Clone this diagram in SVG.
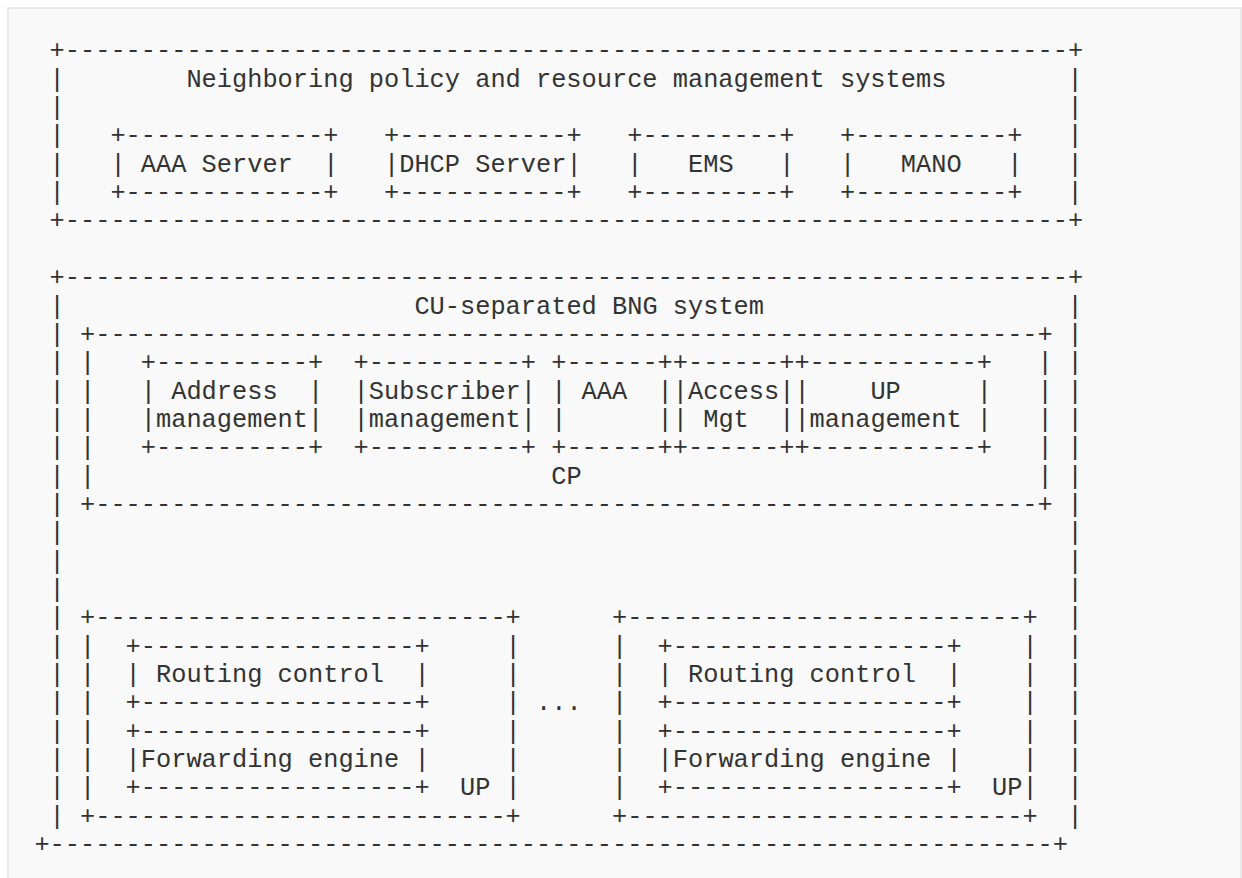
<svg xmlns="http://www.w3.org/2000/svg" width="1242" height="878" viewBox="0 0 1242 878">
<style>
.t { font-family: "Liberation Mono", "DejaVu Sans Mono", monospace; font-size: 25.33px; fill: #333333; white-space: pre; }
</style>
<rect x="0" y="0" width="1242" height="878" fill="#ffffff"/>
<rect x="8" y="8" width="1233" height="890" fill="#f9f9f9" stroke="#e8e8e8" stroke-width="2"/>
<g id="neighboring-systems">
<text class="t" x="49.6" y="58.3">+------------------------------------------------------------------+</text>
<text class="t" x="186.4" y="86.7">Neighboring policy and resource management systems</text>
<text class="t"><tspan x="49.6" y="86.7">|</tspan><tspan x="49.6" y="115">|</tspan><tspan x="49.6" y="143.4">|</tspan><tspan x="49.6" y="171.7">|</tspan><tspan x="49.6" y="200.1">|</tspan><tspan x="1067.6" y="86.7">|</tspan><tspan x="1067.6" y="115">|</tspan><tspan x="1067.6" y="143.4">|</tspan><tspan x="1067.6" y="171.7">|</tspan><tspan x="1067.6" y="200.1">|</tspan></text>
<text class="t" x="49.6" y="228.4">+------------------------------------------------------------------+</text>
</g>
<g id="aaa-server">
<text class="t" x="110.4" y="143.4">+-------------+</text>
<text class="t" x="110.4" y="171.7">| AAA Server  |</text>
<text class="t" x="110.4" y="200.1">+-------------+</text>
</g>
<g id="dhcp-server">
<text class="t" x="384" y="143.4">+-----------+</text>
<text class="t" x="384" y="171.7">|DHCP Server|</text>
<text class="t" x="384" y="200.1">+-----------+</text>
</g>
<g id="ems">
<text class="t" x="627.2" y="143.4">+---------+</text>
<text class="t" x="627.2" y="171.7">|   EMS   |</text>
<text class="t" x="627.2" y="200.1">+---------+</text>
</g>
<g id="mano">
<text class="t" x="840" y="143.4">+----------+</text>
<text class="t" x="840" y="171.7">|   MANO   |</text>
<text class="t" x="840" y="200.1">+----------+</text>
</g>
<g id="cu-separated-bng">
<text class="t" x="49.6" y="285.1">+------------------------------------------------------------------+</text>
<text class="t" x="414.4" y="313.5">CU-separated BNG system</text>
<text class="t"><tspan x="49.6" y="313.5">|</tspan><tspan x="49.6" y="341.8">|</tspan><tspan x="49.6" y="370.2">|</tspan><tspan x="49.6" y="398.5">|</tspan><tspan x="49.6" y="426.9">|</tspan><tspan x="49.6" y="455.2">|</tspan><tspan x="49.6" y="483.6">|</tspan><tspan x="49.6" y="511.9">|</tspan><tspan x="49.6" y="540.3">|</tspan><tspan x="49.6" y="568.6">|</tspan><tspan x="49.6" y="597">|</tspan><tspan x="49.6" y="625.3">|</tspan><tspan x="49.6" y="653.7">|</tspan><tspan x="49.6" y="682">|</tspan><tspan x="49.6" y="710.4">|</tspan><tspan x="49.6" y="738.7">|</tspan><tspan x="49.6" y="767.1">|</tspan><tspan x="49.6" y="795.4">|</tspan><tspan x="49.6" y="823.8">|</tspan></text>
<text class="t"><tspan x="1067.6" y="313.5">|</tspan><tspan x="1067.6" y="341.8">|</tspan><tspan x="1067.6" y="370.2">|</tspan><tspan x="1067.6" y="398.5">|</tspan><tspan x="1067.6" y="426.9">|</tspan><tspan x="1067.6" y="455.2">|</tspan><tspan x="1067.6" y="483.6">|</tspan><tspan x="1067.6" y="511.9">|</tspan><tspan x="1067.6" y="540.3">|</tspan><tspan x="1067.6" y="568.6">|</tspan><tspan x="1067.6" y="597">|</tspan><tspan x="1067.6" y="625.3">|</tspan><tspan x="1067.6" y="653.7">|</tspan><tspan x="1067.6" y="682">|</tspan><tspan x="1067.6" y="710.4">|</tspan><tspan x="1067.6" y="738.7">|</tspan><tspan x="1067.6" y="767.1">|</tspan><tspan x="1067.6" y="795.4">|</tspan><tspan x="1067.6" y="823.8">|</tspan></text>
<text class="t" x="34.4" y="852.1">+------------------------------------------------------------------+</text>
</g>
<g id="cp">
<text class="t" x="80" y="341.8">+--------------------------------------------------------------+</text>
<text class="t"><tspan x="80" y="370.2">|</tspan><tspan x="80" y="398.5">|</tspan><tspan x="80" y="426.9">|</tspan><tspan x="80" y="455.2">|</tspan><tspan x="80" y="483.6">|</tspan><tspan x="1037.6" y="370.2">|</tspan><tspan x="1037.6" y="398.5">|</tspan><tspan x="1037.6" y="426.9">|</tspan><tspan x="1037.6" y="455.2">|</tspan><tspan x="1037.6" y="483.6">|</tspan></text>
<text class="t" x="551.2" y="483.6">CP</text>
<text class="t" x="80" y="511.9">+--------------------------------------------------------------+</text>
</g>
<g id="address-management">
<text class="t" x="140.8" y="370.2">+----------+</text>
<text class="t" x="140.8" y="398.5">| Address  |</text>
<text class="t" x="140.8" y="426.9">|management|</text>
<text class="t" x="140.8" y="455.2">+----------+</text>
</g>
<g id="subscriber-management">
<text class="t" x="353.6" y="370.2">+----------+</text>
<text class="t" x="353.6" y="398.5">|Subscriber|</text>
<text class="t" x="353.6" y="426.9">|management|</text>
<text class="t" x="353.6" y="455.2">+----------+</text>
</g>
<g id="aaa">
<text class="t" x="551.2" y="370.2">+------+</text>
<text class="t" x="551.2" y="398.5">| AAA  |</text>
<text class="t" x="551.2" y="426.9">|      |</text>
<text class="t" x="551.2" y="455.2">+------+</text>
</g>
<g id="access-mgt">
<text class="t" x="672.8" y="370.2">+------+</text>
<text class="t" x="672.8" y="398.5">|Access|</text>
<text class="t" x="672.8" y="426.9">| Mgt  |</text>
<text class="t" x="672.8" y="455.2">+------+</text>
</g>
<g id="up-management">
<text class="t" x="794.4" y="370.2">+-----------+</text>
<text class="t" x="794.4" y="398.5">|    UP     |</text>
<text class="t" x="794.4" y="426.9">|management |</text>
<text class="t" x="794.4" y="455.2">+-----------+</text>
</g>
<g id="up-1">
<text class="t" x="80" y="625.3">+---------------------------+</text>
<text class="t"><tspan x="80" y="653.7">|</tspan><tspan x="80" y="682">|</tspan><tspan x="80" y="710.4">|</tspan><tspan x="80" y="738.7">|</tspan><tspan x="80" y="767.1">|</tspan><tspan x="80" y="795.4">|</tspan><tspan x="505.6" y="653.7">|</tspan><tspan x="505.6" y="682">|</tspan><tspan x="505.6" y="710.4">|</tspan><tspan x="505.6" y="738.7">|</tspan><tspan x="505.6" y="767.1">|</tspan><tspan x="505.6" y="795.4">|</tspan></text>
<text class="t" x="460" y="795.4">UP</text>
<text class="t" x="80" y="823.8">+---------------------------+</text>
</g>
<g id="routing-control-1">
<text class="t" x="125.6" y="653.7">+------------------+</text>
<text class="t" x="125.6" y="682">| Routing control  |</text>
<text class="t" x="125.6" y="710.4">+------------------+</text>
</g>
<g id="forwarding-engine-1">
<text class="t" x="125.6" y="738.7">+------------------+</text>
<text class="t" x="125.6" y="767.1">|Forwarding engine |</text>
<text class="t" x="125.6" y="795.4">+------------------+</text>
</g>
<g id="ellipsis">
<text class="t" x="536" y="710.4">...</text>
</g>
<g id="up-2">
<text class="t" x="612" y="625.3">+--------------------------+</text>
<text class="t"><tspan x="612" y="653.7">|</tspan><tspan x="612" y="682">|</tspan><tspan x="612" y="710.4">|</tspan><tspan x="612" y="738.7">|</tspan><tspan x="612" y="767.1">|</tspan><tspan x="612" y="795.4">|</tspan><tspan x="1022.4" y="653.7">|</tspan><tspan x="1022.4" y="682">|</tspan><tspan x="1022.4" y="710.4">|</tspan><tspan x="1022.4" y="738.7">|</tspan><tspan x="1022.4" y="767.1">|</tspan><tspan x="1022.4" y="795.4">|</tspan></text>
<text class="t" x="992" y="795.4">UP</text>
<text class="t" x="612" y="823.8">+--------------------------+</text>
</g>
<g id="routing-control-2">
<text class="t" x="657.6" y="653.7">+------------------+</text>
<text class="t" x="657.6" y="682">| Routing control  |</text>
<text class="t" x="657.6" y="710.4">+------------------+</text>
</g>
<g id="forwarding-engine-2">
<text class="t" x="657.6" y="738.7">+------------------+</text>
<text class="t" x="657.6" y="767.1">|Forwarding engine |</text>
<text class="t" x="657.6" y="795.4">+------------------+</text>
</g>
<g id="connectors"></g>
</svg>
